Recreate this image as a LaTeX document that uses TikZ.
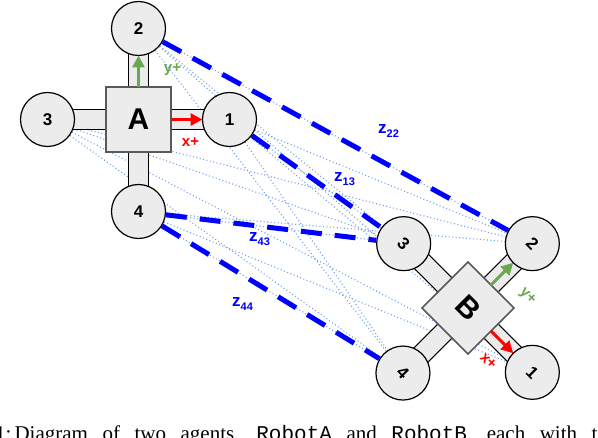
\documentclass[tikz,border=0pt]{standalone}
\usepackage{fontspec}
\setmainfont{Liberation Sans}
\setmonofont{Liberation Mono}
\newfontfamily\capserif{Liberation Serif}
\usetikzlibrary{arrows.meta}
\pgfdeclarelayer{bg}
\pgfsetlayers{bg,main}

\definecolor{armgray}{HTML}{ECECEC}
\definecolor{ygreen}{HTML}{6AA84F}
\definecolor{pairblue}{HTML}{4A86E8}

\tikzset{
  arm/.style={draw=black, fill=armgray, line width=1.2pt},
  body/.style={draw=gray!70!black, fill=armgray, line width=1.5pt, minimum size=65pt, inner sep=0pt,
    font=\fontsize{30}{30}\selectfont\bfseries},
  wheel/.style={circle, draw=black, fill=armgray, line width=1.2pt, minimum size=54pt, inner sep=0pt,
    font=\fontsize{17}{17}\selectfont\bfseries},
  axis/.style={line width=3pt, -{Triangle[length=12pt,width=12pt]}},
  axislabel/.style={font=\fontsize{15}{15}\selectfont\bfseries, inner sep=0pt},
  link/.style={blue, line width=5pt, dash pattern=on 21pt off 13pt},
  pair/.style={pairblue!80, line width=1.1pt, dash pattern=on 1pt off 2.5pt},
  zlabel/.style={blue, anchor=base west, inner sep=0pt, font=\fontsize{17}{17}\selectfont\bfseries}
}

% one robot: body, four arms, four numbered wheels, x and y axes
\newcommand{\robot}[2]{%
  \draw[arm] (-10,-75) rectangle (10,75);
  \draw[arm] (-75,-10) rectangle (75,10);
  \node[body] (#1) at (0,0) {#2};
  \foreach \n/\x/\y in {1/91/0, 2/0/-91, 3/-91/0, 4/0/92}
    \node[wheel] (#1\n) at (\x,\y) {\n};
  \draw[axis, ygreen] (0,-32.5) -- (0,-64);
  \draw[axis, red] (32.5,0) -- (64,0);
  \node[axislabel, ygreen] at (34,-50) {y+};
  \node[axislabel, red] at (52,23) {x+};
}

\newcommand{\zsub}[1]{\raisebox{-4pt}{\fontsize{11}{11}\selectfont #1}}

\begin{document}
\begin{tikzpicture}[x=1pt,y=-1pt]
  \useasboundingbox (0,0) rectangle (598,438);

  \begin{scope}[shift={(138.5,119.5)}]
    \robot{A}{A}
  \end{scope}
  \begin{scope}[shift={(468,308)}, rotate=-45, transform shape]
    \robot{B}{B}
  \end{scope}

  % every wheel pair
  \begin{pgfonlayer}{bg}
    \foreach \i in {1,...,4}
      \foreach \j in {1,...,4}
        \draw[pair] (A\i) -- (B\j);
  \end{pgfonlayer}

  % measured pairs
  \draw[link] (A2) -- (B2);
  \draw[link] (A1) -- (B3);
  \draw[link] (A4) -- (B3);
  \draw[link] (A4) -- (B4);
  \node[zlabel] (z22) at (378,134) {z\zsub{22}};
  \node[zlabel] (z13) at (334,182) {z\zsub{13}};
  \node[zlabel] (z43) at (249,242) {z\zsub{43}};
  \node[zlabel] (z44) at (232,307) {z\zsub{44}};

  \node[anchor=base west, inner sep=0pt] (caption) at (-5,441)
    {\capserif\fontsize{21}{21}\selectfont 1:\hspace{3pt}\makebox[583pt][s]{Diagram of two agents, \texttt{RobotA} and \texttt{RobotB}, each with t}};
\end{tikzpicture}
\end{document}
